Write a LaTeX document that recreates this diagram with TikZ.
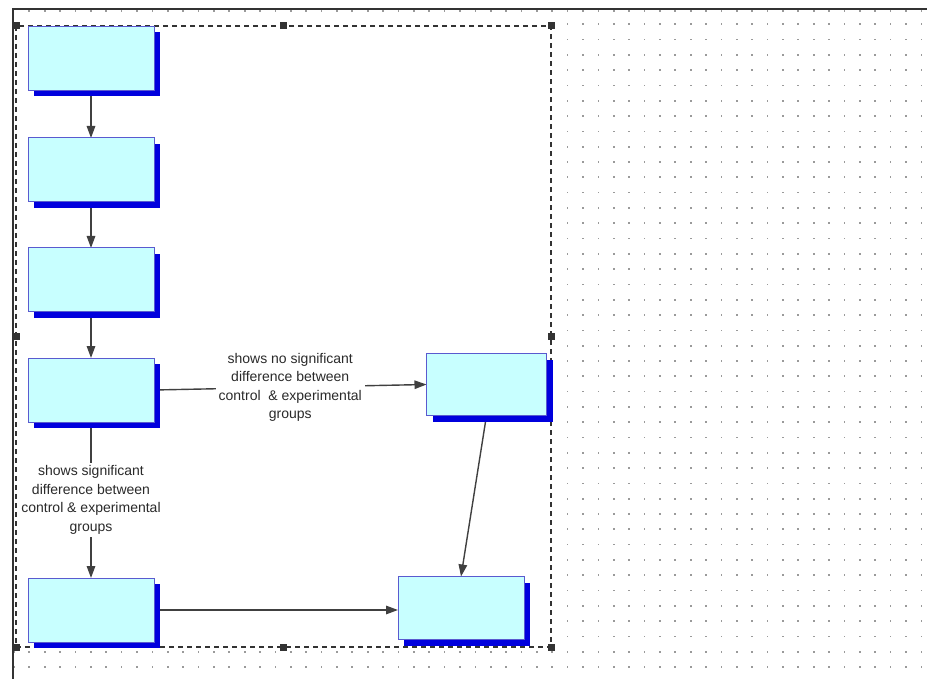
\documentclass[tikz,border=0pt]{standalone}
\usepackage{fontspec}
\setmainfont{Liberation Sans}
\usetikzlibrary{arrows.meta,shadows}
\definecolor{boxfill}{HTML}{C8FFFF}
\definecolor{boxline}{HTML}{5A5ACF}
\definecolor{shadowblue}{HTML}{0000DD}
\definecolor{connc}{HTML}{404040}
\definecolor{framec}{HTML}{333333}
\definecolor{dotc}{HTML}{9A9A9A}
\definecolor{txtc}{HTML}{2A2A2A}
\pgfdeclarelayer{back}
\pgfdeclarelayer{conn}
\pgfsetlayers{back,conn,main}
\tikzset{
  procbox/.style={draw=boxline, line width=1pt, fill=boxfill,
    minimum width=126pt, minimum height=64pt, inner sep=0pt, outer sep=0pt,
    drop shadow={shadow xshift=6pt, shadow yshift=-6pt, fill=shadowblue, opacity=1}},
  conn/.style={draw=connc, line width=1.4pt, -{Triangle[length=12pt,width=8.5pt]}},
  lab/.style={fill=white, text=txtc, align=center, inner sep=3pt,
    font=\fontsize{14}{18.5}\selectfont},
  handle/.style={fill=framec, draw=none}
}
\begin{document}
\begin{tikzpicture}[x=1pt,y=-1pt]
\useasboundingbox (0,0) rectangle (927,679);
\begin{pgfonlayer}{back}
  \fill[white] (0,0) rectangle (927,679);
  % grid of dots right of the selection
  \foreach \i in {36,...,59}{
    \foreach \j in {1,...,43}{
      \fill[dotc] ({13.9+15.38*\i-0.8},{9+15.3*\j-0.8}) rectangle ++(1.7,1.7);
    }
  }
  % grid of dots below the selection
  \foreach \i in {0,...,35}{
    \foreach \j in {42,43}{
      \fill[dotc] ({13.9+15.38*\i-0.8},{9+15.3*\j-0.8}) rectangle ++(1.7,1.7);
    }
  }
  % tick dots just under the top frame line
  \foreach \i in {1,...,59}{
    \fill[dotc] ({13.9+15.38*\i-0.8},{10.5}) rectangle ++(1.7,1.7);
  }
  \fill[white] (16,26) rectangle (551,647);
  % frame
  \draw[framec, line width=1.6pt] (13,679) -- (13,9) -- (927,9);
  % selection rectangle
  \draw[framec, line width=1.4pt, dash pattern=on 5pt off 4pt] (16,26) rectangle (551,647);
  \foreach \p in {(16,26),(283,26),(551,26),(16,336.5),(551,336.5),(16,647),(283,647),(551,647)}{
    \fill[framec] \p ++(-3.5,-3.5) rectangle ++(7,7);
  }
\end{pgfonlayer}

\node[procbox] (b1) at (91,58.5) {};
\node[procbox] (b2) at (91,170) {};
\node[procbox] (b3) at (91,280) {};
\node[procbox] (b4) at (91,390) {};
\node[procbox] (b5) at (91,610) {};
\node[procbox, minimum width=120pt, minimum height=62pt] (b6) at (486.5,384.5) {};
\node[procbox, minimum height=63pt] (b7) at (461,608) {};

\begin{pgfonlayer}{conn}
  \draw[conn] (b1.south) -- (b2.north);
  \draw[conn] (b2.south) -- (b3.north);
  \draw[conn] (b3.south) -- (b4.north);
  \draw[conn] (b4.east) -- node[lab] (l1) {shows no significant\\difference between\\control \ \& experimental\\groups} (b6.west);
  \draw[conn] (b4.south) -- node[lab] (l2) {shows significant\\difference between\\control \& experimental\\groups} (b5.north);
  \draw[conn] (b6.south) -- (b7.north);
  \draw[conn] (b5.east) -- (b5.east -| b7.west);
\end{pgfonlayer}
\end{tikzpicture}
\end{document}
